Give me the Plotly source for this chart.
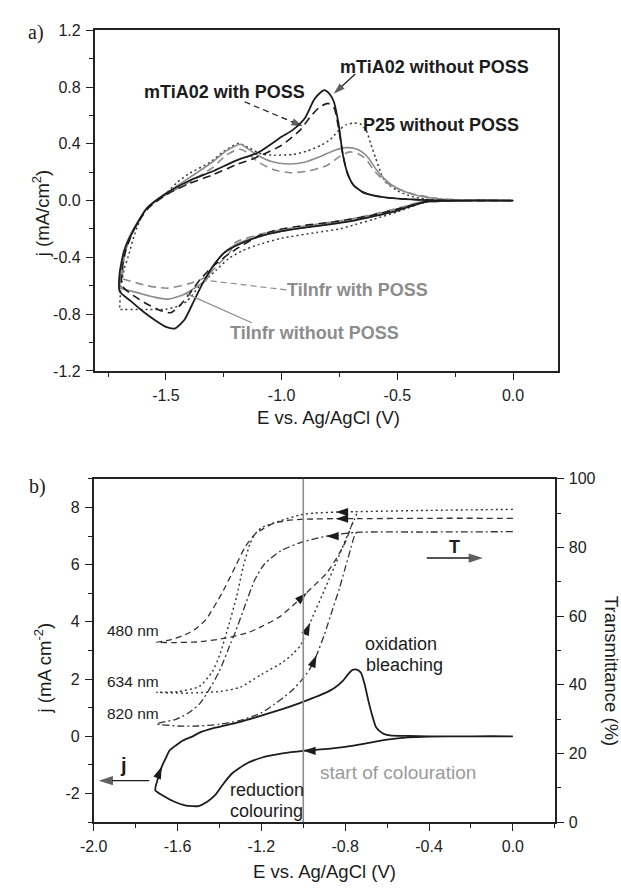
import plotly.graph_objects as go

# ---------------- Panel a: cyclic voltammograms ----------------
# mTiA02 without POSS (solid black)
a1_E = [0.0, -0.2, -0.38, -0.5, -0.6, -0.7, -0.8, -0.9, -1.0, -1.1, -1.2, -1.25, -1.3, -1.34, -1.38, -1.42,
        -1.46, -1.5, -1.55, -1.6, -1.65, -1.70,
        -1.70, -1.68, -1.64, -1.58, -1.5, -1.4, -1.3, -1.2, -1.1, -1.0, -0.95, -0.9, -0.86, -0.83, -0.815,
        -0.795, -0.775, -0.755, -0.735, -0.715, -0.69, -0.65, -0.6, -0.52, -0.4, -0.25, 0.0]
a1_j = [0.0, 0.0, -0.01, -0.07, -0.11, -0.145, -0.17, -0.19, -0.215, -0.255, -0.32, -0.37, -0.47, -0.58, -0.71, -0.84,
        -0.9, -0.89, -0.84, -0.78, -0.71, -0.64,
        -0.51, -0.35, -0.21, -0.05, 0.05, 0.14, 0.205, 0.28, 0.34, 0.45, 0.5, 0.58, 0.71, 0.765, 0.778,
        0.755, 0.70, 0.55, 0.32, 0.19, 0.11, 0.06, 0.035, 0.017, 0.005, 0.0, 0.0]

# mTiA02 with POSS (dashed black)
a2_E = [0.0, -0.2, -0.38, -0.5, -0.6, -0.7, -0.8, -0.9, -1.03, -1.1, -1.185, -1.24, -1.283, -1.32, -1.354, -1.396,
        -1.44, -1.48, -1.53, -1.58, -1.64, -1.69,
        -1.69, -1.675, -1.64, -1.58, -1.5, -1.4, -1.3, -1.2, -1.115, -1.0, -0.918, -0.875, -0.835, -0.80,
        -0.775, -0.755, -0.735, -0.715, -0.69, -0.65, -0.6, -0.52, -0.4, -0.25, 0.0]
a2_j = [0.0, 0.0, -0.01, -0.06, -0.10, -0.13, -0.155, -0.175, -0.21, -0.25, -0.33, -0.39, -0.445, -0.50, -0.56, -0.652,
        -0.74, -0.79, -0.77, -0.73, -0.67, -0.60,
        -0.50, -0.36, -0.21, -0.06, 0.04, 0.12, 0.18, 0.25, 0.30, 0.39, 0.50, 0.593, 0.66, 0.685,
        0.66, 0.52, 0.32, 0.19, 0.11, 0.06, 0.035, 0.017, 0.005, 0.0, 0.0]

# P25 without POSS (dotted)
a3_E = [0.0, -0.3, -0.35, -0.4, -0.5, -0.6, -0.68, -0.75, -0.85, -1.0, -1.1, -1.17, -1.23, -1.283, -1.354, -1.41,
        -1.45, -1.5, -1.6, -1.70,
        -1.70, -1.695, -1.68, -1.664, -1.635, -1.594, -1.537, -1.5, -1.45, -1.4, -1.31, -1.256, -1.213, -1.185,
        -1.143, -1.087, -1.03, -0.95, -0.889, -0.83, -0.79, -0.75, -0.72, -0.69, -0.66, -0.636, -0.615, -0.594,
        -0.57, -0.55, -0.5, -0.45, -0.38, -0.3, 0.0]
a3_j = [0.0, 0.0, 0.0, -0.02, -0.08, -0.13, -0.168, -0.2, -0.225, -0.265, -0.31, -0.353, -0.41, -0.49, -0.60, -0.71,
        -0.745, -0.765, -0.767, -0.767,
        -0.767, -0.62, -0.48, -0.40, -0.237, -0.076, 0.005, 0.05, 0.13, 0.19, 0.27, 0.34, 0.385, 0.404,
        0.373, 0.328, 0.32, 0.325, 0.35, 0.39, 0.43, 0.50, 0.535, 0.546, 0.54, 0.50, 0.40, 0.30,
        0.19, 0.13, 0.07, 0.035, 0.01, 0.003, 0.0]

# TiInfr without POSS (solid grey)
a4_E = [0.0, -0.35, -0.4, -0.5, -0.6, -0.7, -0.8, -0.9, -1.0, -1.1, -1.2, -1.25, -1.3, -1.326, -1.37, -1.42,
        -1.488, -1.55, -1.62, -1.70,
        -1.70, -1.69, -1.67, -1.63, -1.58, -1.5, -1.4, -1.3, -1.24, -1.2, -1.178, -1.15, -1.115, -1.044,
        -0.974, -0.9, -0.833, -0.77, -0.72, -0.68, -0.65, -0.62, -0.594, -0.56, -0.523, -0.467, -0.4, -0.3, 0.0]
a4_j = [0.0, 0.0, -0.01, -0.06, -0.10, -0.14, -0.165, -0.19, -0.215, -0.25, -0.31, -0.37, -0.47, -0.56, -0.61, -0.66,
        -0.694, -0.68, -0.65, -0.617,
        -0.617, -0.45, -0.30, -0.17, -0.05, 0.05, 0.16, 0.27, 0.35, 0.385, 0.397, 0.37, 0.33, 0.275,
        0.258, 0.27, 0.31, 0.355, 0.373, 0.365, 0.339, 0.29, 0.224, 0.16, 0.108, 0.062, 0.03, 0.01, 0.0]

# TiInfr with POSS (dashed grey)
a5_E = [0.0, -0.35, -0.4, -0.5, -0.6, -0.7, -0.8, -0.9, -1.0, -1.1, -1.2, -1.227, -1.28, -1.326, -1.4, -1.495,
        -1.58, -1.69,
        -1.69, -1.68, -1.66, -1.62, -1.58, -1.5, -1.4, -1.3, -1.24, -1.2, -1.18, -1.15, -1.1, -1.03, -0.96,
        -0.88, -0.805, -0.75, -0.706, -0.67, -0.636, -0.6, -0.55, -0.5, -0.45, -0.4, -0.3, 0.0]
a5_j = [0.0, 0.0, -0.01, -0.055, -0.095, -0.13, -0.155, -0.18, -0.205, -0.24, -0.295, -0.37, -0.46, -0.537, -0.585,
        -0.617, -0.6, -0.55,
        -0.55, -0.40, -0.28, -0.15, -0.05, 0.04, 0.13, 0.23, 0.32, 0.355, 0.362, 0.34, 0.27, 0.215, 0.196,
        0.21, 0.247, 0.31, 0.343, 0.33, 0.293, 0.21, 0.131, 0.085, 0.055, 0.035, 0.01, 0.0]

a_xticks = [-1.5, -1.0, -0.5, 0.0]
a_xticklabels = ["-1.5", "-1.0", "-0.5", "0.0"]
a_yticks = [-1.2, -0.8, -0.4, 0.0, 0.4, 0.8, 1.2]
a_yticklabels = ["-1.2", "-0.8", "-0.4", "0.0", "0.4", "0.8", "1.2"]

# ---------------- Panel b: CV + in-situ transmittance ----------------
b_cv_E = [0.0, -0.2, -0.4, -0.5, -0.6, -0.7, -0.8, -0.9, -1.0, -1.1, -1.2, -1.27, -1.34, -1.38, -1.42, -1.46, -1.5,
          -1.56, -1.62, -1.67, -1.706,
          -1.69, -1.675, -1.655, -1.637, -1.60, -1.574, -1.53, -1.497, -1.42, -1.31, -1.2, -1.1, -1.014, -0.95,
          -0.9, -0.85, -0.81, -0.785, -0.765, -0.745, -0.725, -0.705, -0.689, -0.67, -0.652, -0.62, -0.587,
          -0.5, -0.4, -0.3, 0.0]
b_cv_j = [0.0, 0.0, -0.01, -0.04, -0.12, -0.25, -0.37, -0.45, -0.51, -0.6, -0.75, -0.95, -1.3, -1.65, -2.05, -2.3, -2.44,
          -2.42, -2.27, -2.07, -1.88,
          -1.4, -1.06, -0.75, -0.49, -0.28, -0.15, -0.01, 0.12, 0.30, 0.49, 0.72, 0.95, 1.17, 1.35,
          1.50, 1.70, 1.95, 2.18, 2.32, 2.33, 2.22, 1.75, 1.23, 0.7, 0.31, 0.1, 0.03,
          0.01, 0.0, 0.0, 0.0]

# transmittance at 480 nm (dashed)
b_t480_E = [0.0, -0.4, -0.76, -0.85, -0.95, -1.014, -1.08, -1.139, -1.19, -1.232, -1.279, -1.325, -1.388, -1.465,
            -1.52, -1.574, -1.64, -1.70,
            -1.62, -1.5, -1.38, -1.263, -1.198, -1.108, -1.007, -0.95, -0.89, -0.84, -0.797, -0.765, -0.75]
b_t480_T = [88.5, 88.5, 88.4, 88.4, 88.3, 88.2, 87.8, 87.1, 85.5, 83.8, 80.0, 74.3, 66.7, 59.0,
            56.0, 54.3, 53.0, 52.4,
            52.3, 52.5, 53.5, 55.2, 57.0, 60.0, 65.5, 68.8, 72.4, 77.0, 81.9, 87.1, 88.4]

# transmittance at 634 nm (dotted)
b_t634_E = [0.0, -0.4, -0.84, -0.95, -1.014, -1.108, -1.201, -1.235, -1.255, -1.287, -1.318, -1.357, -1.40, -1.434,
            -1.496, -1.6, -1.70,
            -1.6, -1.5, -1.388, -1.3, -1.2, -1.1, -1.05, -1.014, -0.968, -0.9, -0.83, -0.79, -0.765, -0.745]
b_t634_T = [91.1, 90.8, 90.3, 90.0, 89.5, 87.8, 85.7, 83.5, 80.9, 74.3, 65.7, 57.1, 48.5, 43.8,
            39.5, 38.0, 37.8,
            37.6, 37.7, 38.1, 39.3, 43.0, 46.5, 49.0, 51.4, 58.0, 67.5, 77.5, 83.5, 87.0, 89.8]

# transmittance at 820 nm (dash-dot)
b_t820_E = [0.0, -0.4, -0.75, -0.89, -1.014, -1.108, -1.185, -1.232, -1.279, -1.325, -1.347, -1.40, -1.45, -1.494,
            -1.543, -1.605, -1.70,
            -1.6, -1.5, -1.4, -1.31, -1.2, -1.139, -1.06, -1.014, -0.97, -0.937, -0.9, -0.86, -0.828, -0.8,
            -0.772, -0.752, -0.74]
b_t820_T = [84.6, 84.5, 84.4, 83.3, 81.4, 79.0, 75.2, 70.5, 62.9, 55.2, 52.0, 44.0, 38.5, 34.5,
            32.0, 30.0, 28.6,
            28.0, 28.0, 28.5, 29.5, 31.8, 34.3, 38.0, 40.9, 44.5, 48.6, 54.5, 62.0, 68.0, 74.0,
            80.0, 84.0, 84.5]

# sweep-direction arrowheads on the transmittance and current curves
b_tarrow_E = [-0.845, -0.845, -0.89, -0.983, -0.968, -0.937]
b_tarrow_T = [90.3, 88.4, 83.3, 66.8, 58.0, 48.6]
b_tarrow_dir = [270, 270, 270, 47, 23, 23]
b_jarrow_E = [-1.0, -1.675]
b_jarrow_j = [-0.51, -1.06]
b_jarrow_dir = [270, 22]

b_xticks = [-2.0, -1.6, -1.2, -0.8, -0.4, 0.0]
b_xticklabels = ["-2.0", "-1.6", "-1.2", "-0.8", "-0.4", "0.0"]
b_yticks = [-2, 0, 2, 4, 6, 8]
b_yticklabels = ["-2", "0", "2", "4", "6", "8"]
b_tticks = [0, 20, 40, 60, 80, 100]
b_tticklabels = ["0", "20", "40", "60", "80", "100"]

E_COLOURATION = -1.0

for ex, yy in [(a1_E, a1_j), (a2_E, a2_j), (a3_E, a3_j), (a4_E, a4_j), (a5_E, a5_j),
               (b_cv_E, b_cv_j), (b_t480_E, b_t480_T), (b_t634_E, b_t634_T), (b_t820_E, b_t820_T)]:
    assert len(ex) == len(yy), (len(ex), len(yy))

# ---------------- styling ----------------
FONT = "Liberation Sans"
BLACK = "#1c1c1c"
GREY = "#8c8c8c"
W, H = 621, 888

fig = go.Figure()


def curve(x, y, xa, ya, color, width, dash):
    fig.add_trace(go.Scatter(x=x, y=y, xaxis=xa, yaxis=ya, mode="lines",
                             line=dict(color=color, width=width, dash=dash,
                                       shape="spline", smoothing=0.6),
                             hoverinfo="skip"))


def leader(x, y, xa, ya, color, width, dash, head=True, headsize=12):
    fig.add_trace(go.Scatter(x=x, y=y, xaxis=xa, yaxis=ya,
                             mode="lines+markers" if head else "lines",
                             line=dict(color=color, width=width, dash=dash),
                             marker=dict(symbol="arrow", size=[0, headsize], color=color,
                                         angleref="previous", line=dict(width=0)),
                             hoverinfo="skip"))


# panel a curves
curve(a3_E, a3_j, "x", "y", "#3a3a3a", 1.5, "2px,3px")
curve(a5_E, a5_j, "x", "y", GREY, 1.6, "8px,5px")
curve(a4_E, a4_j, "x", "y", GREY, 1.6, "solid")
curve(a2_E, a2_j, "x", "y", BLACK, 1.6, "8px,5px")
curve(a1_E, a1_j, "x", "y", BLACK, 1.8, "solid")

# panel a label leaders
leader([-0.682, -0.775], [0.892, 0.752], "x", "y", BLACK, 1.2, "solid")
leader([-1.16, -0.908], [0.696, 0.523], "x", "y", BLACK, 1.2, "6px,4px")
leader([-0.98, -1.335], [-0.629, -0.56], "x", "y", GREY, 1.2, "6px,4px", head=False)
leader([-1.129, -1.417], [-0.861, -0.652], "x", "y", GREY, 1.2, "solid", head=False)

# panel b transmittance curves (right axis)
curve(b_t480_E, b_t480_T, "x2", "y3", "#333333", 1.3, "6px,4px")
curve(b_t634_E, b_t634_T, "x2", "y3", "#333333", 1.4, "2px,3px")
curve(b_t820_E, b_t820_T, "x2", "y3", "#333333", 1.3, "7px,3px,2px,3px")
# panel b current (left axis)
curve(b_cv_E, b_cv_j, "x2", "y2", BLACK, 1.8, "solid")

fig.add_trace(go.Scatter(x=b_tarrow_E, y=b_tarrow_T, xaxis="x2", yaxis="y3", mode="markers",
                         marker=dict(symbol="arrow", size=13, angle=b_tarrow_dir, color=BLACK,
                                     line=dict(width=0)), hoverinfo="skip"))
fig.add_trace(go.Scatter(x=b_jarrow_E, y=b_jarrow_j, xaxis="x2", yaxis="y2", mode="markers",
                         marker=dict(symbol="arrow", size=13, angle=b_jarrow_dir, color=BLACK,
                                     line=dict(width=0)), hoverinfo="skip"))

# axis pointers: T -> right axis, j -> left axis
leader([-0.411, -0.143], [6.23, 6.23], "x2", "y2", BLACK, 1.4, "solid", headsize=15)
leader([-1.735, -1.976], [-1.55, -1.55], "x2", "y2", BLACK, 1.4, "solid", headsize=15)

# start-of-colouration marker line
fig.add_shape(type="line", xref="x2", yref="y2 domain", x0=E_COLOURATION, x1=E_COLOURATION,
              y0=0, y1=1, line=dict(color=GREY, width=1.6))

tickfont = dict(family=FONT, size=16, color="#222")


def axis_common(**kw):
    d = dict(showline=True, linecolor="#222", linewidth=1.6, ticks="outside", ticklen=7,
             tickwidth=1.3, tickcolor="#222", showgrid=False, zeroline=False,
             tickfont=tickfont, tickmode="array", ticklabelstandoff=2)
    d.update(kw)
    return d


def minor(step):
    return dict(tickmode="linear", tick0=0, dtick=step, ticks="outside",
                ticklen=4, tickwidth=1.2, tickcolor="#222")


fig.update_layout(
    width=W, height=H, margin=dict(l=0, r=0, t=0, b=0),
    paper_bgcolor="white", plot_bgcolor="white", showlegend=False,
    xaxis=axis_common(domain=[82.5 / W, 557 / W], range=[-1.808, 0.196], anchor="y", mirror=True,
                      tickvals=a_xticks, ticktext=a_xticklabels, minor=minor(0.25)),
    yaxis=axis_common(domain=[1 - 370 / H, 1 - 22.7 / H], range=[-1.2, 1.2], anchor="x", mirror=True,
                      tickvals=a_yticks, ticktext=a_yticklabels, minor=minor(0.2)),
    xaxis2=axis_common(domain=[81.5 / W, 553.3 / W], range=[-2.0, 0.2], anchor="y2", mirror=True,
                       tickvals=b_xticks, ticktext=b_xticklabels, minor=minor(0.2)),
    yaxis2=axis_common(domain=[1 - 830 / H, 1 - 480 / H], range=[-3, 9], anchor="x2",
                       tickvals=b_yticks, ticktext=b_yticklabels, minor=minor(1)),
    yaxis3=axis_common(range=[0, 100], anchor="x2", overlaying="y2", side="right",
                       tickvals=b_tticks, ticktext=b_tticklabels, minor=minor(10)),
)


def note(text, x, y, xref, yref, size, color=BLACK, bold=False, xanchor="center", angle=0,
         family=FONT):
    fig.add_annotation(text=f"<b>{text}</b>" if bold else text, x=x, y=y, xref=xref, yref=yref,
                       showarrow=False, xanchor=xanchor, yanchor="middle", textangle=angle,
                       font=dict(family=family, size=size, color=color))


# panel a texts
note("mTiA02 without POSS", -0.34, 0.943, "x", "y", 18, bold=True)
note("mTiA02 with POSS", -1.247, 0.766, "x", "y", 18, bold=True)
note("P25 without POSS", -0.313, 0.535, "x", "y", 18, bold=True)
note("TiInfr with POSS", -0.673, -0.629, "x", "y", 18, color=GREY, bold=True)
note("TiInfr without POSS", -0.858, -0.936, "x", "y", 18, color=GREY, bold=True)

# panel b texts
note("480 nm", -1.678, 3.69, "x2", "y2", 15.5, xanchor="right")
note("634 nm", -1.678, 1.91, "x2", "y2", 15.5, xanchor="right")
note("820 nm", -1.678, 0.81, "x2", "y2", 15.5, xanchor="right")
note("oxidation", -0.716, 3.21, "x2", "y2", 18, xanchor="left")
note("bleaching", -0.708, 2.49, "x2", "y2", 18, xanchor="left")
note("reduction", -1.361, -1.86, "x2", "y2", 18, xanchor="left")
note("colouring", -1.361, -2.6, "x2", "y2", 18, xanchor="left")
note("start of colouration", -0.55, -1.28, "x2", "y2", 19, color="#9a9a9a")
note("T", -0.281, 6.62, "x2", "y2", 18, bold=True)
note("j", -1.856, -1.02, "x2", "y2", 20, bold=True)

# axis titles and panel tags
note("j (mA/cm<sup>2</sup>)", 27.8 / W, 1 - 210 / H, "paper", "paper", 18.5, angle=-90)
note("E vs. Ag/AgCl (V)", 321.5 / W, 1 - 417 / H, "paper", "paper", 18.5)
note("j (mA cm<sup>-2</sup>)", 30 / W, 1 - 673 / H, "paper", "paper", 18.5, angle=-90)
note("Transmittance (%)", 612 / W, 1 - 676 / H, "paper", "paper", 18.5, angle=90)
note("E vs. Ag/AgCl (V)", 317.5 / W, 1 - 880 / H, "paper", "paper", 18.5)
note("a)", 22 / W, 1 - 25 / H, "paper", "paper", 20, family="Liberation Serif")
note("b)", 24 / W, 1 - 488 / H, "paper", "paper", 20, family="Liberation Serif")

fig.write_html("out.html")
